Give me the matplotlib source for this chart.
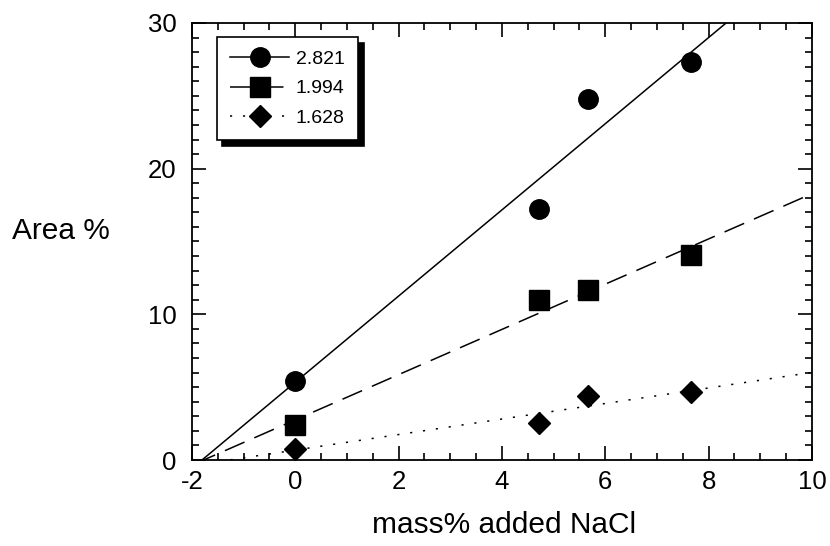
import numpy as np
import matplotlib
matplotlib.use('Agg')
import matplotlib.pyplot as plt
from matplotlib.ticker import MultipleLocator

plt.rcParams['font.family'] = ['Liberation Sans', 'DejaVu Sans']
plt.rcParams['axes.unicode_minus'] = False

# data
x_nacl = [0.0, 4.72, 5.67, 7.66]
y_2821 = [5.45, 17.2, 24.8, 27.3]
y_1994 = [2.4, 10.95, 11.65, 14.05]
y_1628 = [0.75, 2.55, 4.4, 4.65]
labels = ['2.821', '1.994', '1.628']

fig = plt.figure(figsize=(8.3, 5.46), dpi=100)
ax = fig.add_axes([0.2313, 0.1575, 0.747, 0.8004])

series = [
    (y_2821, 'o', '-', 14),
    (y_1994, 's', (0, (14, 7)), 14),
    (y_1628, 'D', (0, (1.4, 7.1)), 11),
]

xfit = np.array([-2.5, 10.5])
handles = []
for (ys, mk, ls, ms), lab in zip(series, labels):
    # least-squares line through the points
    slope, icpt = np.polyfit(x_nacl, ys, 1)
    ax.plot(xfit, slope * xfit + icpt, color='black', linestyle=ls, linewidth=1.1)
    ax.plot(x_nacl, ys, linestyle='none', marker=mk, markersize=ms,
            color='black', clip_on=False)
    h, = ax.plot([], [], color='black', linestyle=ls, linewidth=1.1,
                 marker=mk, markersize=ms, label=lab)
    handles.append(h)

ax.set_xlim(-2, 10)
ax.set_ylim(0, 30)
ax.xaxis.set_major_locator(MultipleLocator(2))
ax.xaxis.set_minor_locator(MultipleLocator(0.5))
ax.yaxis.set_major_locator(MultipleLocator(10))
ax.yaxis.set_minor_locator(MultipleLocator(1))
ax.tick_params(which='both', direction='in', top=True, right=True, width=1.2, colors='black')
ax.tick_params(which='major', length=10, labelsize=18.5)
ax.tick_params(which='minor', length=5)
ax.tick_params(axis='x', pad=7)
ax.tick_params(axis='y', pad=11)
for s in ax.spines.values():
    s.set_linewidth(1.3)

fig.text(504 / 830, 1 - 525 / 546, 'mass% added NaCl', fontsize=21.5, ha='center', va='center')
fig.text(12 / 830, 1 - 231 / 546, 'Area %', fontsize=21.5, ha='left', va='center')

leg = ax.legend(handles=handles, loc='upper left', bbox_to_anchor=(0.040, 0.968),
                borderaxespad=0, fontsize=14, frameon=True, fancybox=False,
                edgecolor='black', framealpha=1, handlelength=3.0,
                handletextpad=0.35, borderpad=0.7, labelspacing=0.6,
                shadow={'color': 'black', 'alpha': 1, 'ox': 4, 'oy': -4})
leg.get_frame().set_linewidth(1.2)

fig.savefig('out.png', dpi=100)
